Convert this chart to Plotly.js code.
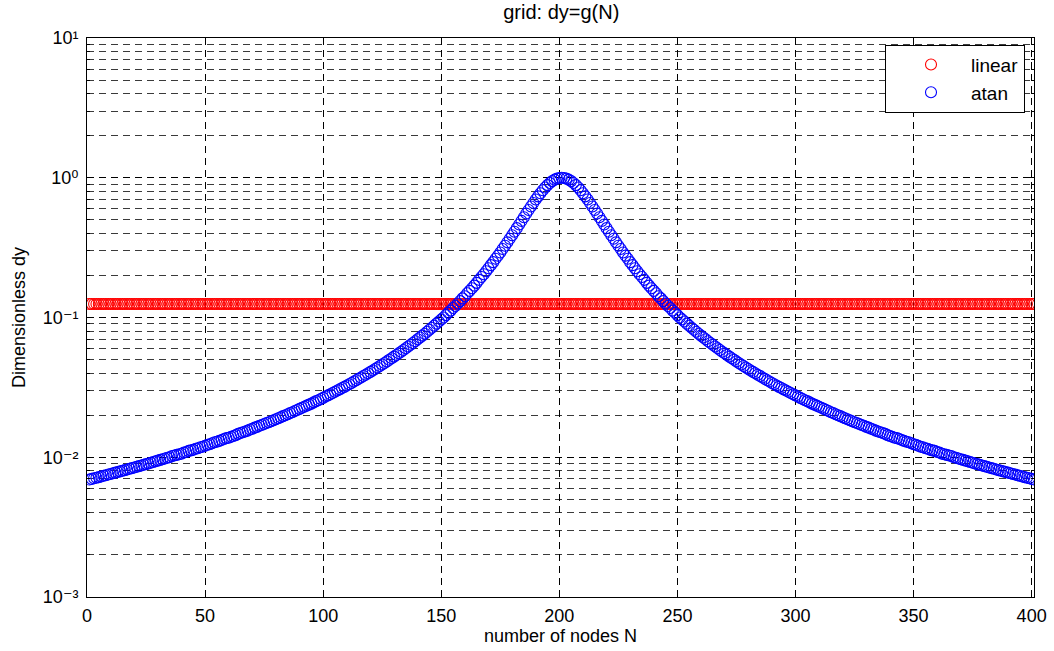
<!DOCTYPE html>
<html>
<head>
<meta charset="utf-8">
<script src="https://cdn.plot.ly/plotly-3.0.1.min.js"></script>
<style>
  html, body { margin: 0; padding: 0; background: #fff; overflow: hidden; }
</style>
</head>
<body>
<div id="chart" style="width:1054px;height:651px;"></div>
<script>
// Node numbers N (x axis)
const nodeCount = 401;
const nodes = [];
for (let i = 1; i <= nodeCount; i++) nodes.push(i);

// linear grid spacing (constant)
const dyLinear = [
0.125,0.125,0.125,0.125,0.125,0.125,0.125,0.125,0.125,0.125,0.125,0.125,0.125,0.125,0.125,0.125,0.125,0.125,0.125,0.125,
0.125,0.125,0.125,0.125,0.125,0.125,0.125,0.125,0.125,0.125,0.125,0.125,0.125,0.125,0.125,0.125,0.125,0.125,0.125,0.125,
0.125,0.125,0.125,0.125,0.125,0.125,0.125,0.125,0.125,0.125,0.125,0.125,0.125,0.125,0.125,0.125,0.125,0.125,0.125,0.125,
0.125,0.125,0.125,0.125,0.125,0.125,0.125,0.125,0.125,0.125,0.125,0.125,0.125,0.125,0.125,0.125,0.125,0.125,0.125,0.125,
0.125,0.125,0.125,0.125,0.125,0.125,0.125,0.125,0.125,0.125,0.125,0.125,0.125,0.125,0.125,0.125,0.125,0.125,0.125,0.125,
0.125,0.125,0.125,0.125,0.125,0.125,0.125,0.125,0.125,0.125,0.125,0.125,0.125,0.125,0.125,0.125,0.125,0.125,0.125,0.125,
0.125,0.125,0.125,0.125,0.125,0.125,0.125,0.125,0.125,0.125,0.125,0.125,0.125,0.125,0.125,0.125,0.125,0.125,0.125,0.125,
0.125,0.125,0.125,0.125,0.125,0.125,0.125,0.125,0.125,0.125,0.125,0.125,0.125,0.125,0.125,0.125,0.125,0.125,0.125,0.125,
0.125,0.125,0.125,0.125,0.125,0.125,0.125,0.125,0.125,0.125,0.125,0.125,0.125,0.125,0.125,0.125,0.125,0.125,0.125,0.125,
0.125,0.125,0.125,0.125,0.125,0.125,0.125,0.125,0.125,0.125,0.125,0.125,0.125,0.125,0.125,0.125,0.125,0.125,0.125,0.125,
0.125,0.125,0.125,0.125,0.125,0.125,0.125,0.125,0.125,0.125,0.125,0.125,0.125,0.125,0.125,0.125,0.125,0.125,0.125,0.125,
0.125,0.125,0.125,0.125,0.125,0.125,0.125,0.125,0.125,0.125,0.125,0.125,0.125,0.125,0.125,0.125,0.125,0.125,0.125,0.125,
0.125,0.125,0.125,0.125,0.125,0.125,0.125,0.125,0.125,0.125,0.125,0.125,0.125,0.125,0.125,0.125,0.125,0.125,0.125,0.125,
0.125,0.125,0.125,0.125,0.125,0.125,0.125,0.125,0.125,0.125,0.125,0.125,0.125,0.125,0.125,0.125,0.125,0.125,0.125,0.125,
0.125,0.125,0.125,0.125,0.125,0.125,0.125,0.125,0.125,0.125,0.125,0.125,0.125,0.125,0.125,0.125,0.125,0.125,0.125,0.125,
0.125,0.125,0.125,0.125,0.125,0.125,0.125,0.125,0.125,0.125,0.125,0.125,0.125,0.125,0.125,0.125,0.125,0.125,0.125,0.125,
0.125,0.125,0.125,0.125,0.125,0.125,0.125,0.125,0.125,0.125,0.125,0.125,0.125,0.125,0.125,0.125,0.125,0.125,0.125,0.125,
0.125,0.125,0.125,0.125,0.125,0.125,0.125,0.125,0.125,0.125,0.125,0.125,0.125,0.125,0.125,0.125,0.125,0.125,0.125,0.125,
0.125,0.125,0.125,0.125,0.125,0.125,0.125,0.125,0.125,0.125,0.125,0.125,0.125,0.125,0.125,0.125,0.125,0.125,0.125,0.125,
0.125,0.125,0.125,0.125,0.125,0.125,0.125,0.125,0.125,0.125,0.125,0.125,0.125,0.125,0.125,0.125,0.125,0.125,0.125,0.125,
0.125
];

// atan-stretched grid spacing
const dyAtan = [
0.00693,0.00700,0.00707,0.00714,0.00721,0.00729,0.00737,0.00744,0.00752,0.00759,
0.00768,0.00776,0.00784,0.00792,0.00800,0.00809,0.00818,0.00827,0.00836,0.00845,
0.00854,0.00864,0.00873,0.00883,0.00893,0.00903,0.00914,0.00924,0.00935,0.00946,
0.00957,0.00968,0.00979,0.00991,0.0100,0.0102,0.0103,0.0104,0.0105,0.0106,
0.0108,0.0109,0.0111,0.0112,0.0113,0.0115,0.0116,0.0118,0.0119,0.0121,
0.0123,0.0124,0.0126,0.0128,0.0129,0.0131,0.0133,0.0135,0.0137,0.0138,
0.0140,0.0142,0.0144,0.0147,0.0149,0.0151,0.0153,0.0155,0.0158,0.0160,
0.0163,0.0165,0.0168,0.0170,0.0173,0.0176,0.0178,0.0181,0.0184,0.0187,
0.0190,0.0193,0.0197,0.0200,0.0203,0.0207,0.0210,0.0214,0.0218,0.0222,
0.0226,0.0230,0.0234,0.0238,0.0242,0.0247,0.0252,0.0256,0.0261,0.0266,
0.0272,0.0277,0.0282,0.0288,0.0294,0.0300,0.0306,0.0313,0.0319,0.0326,
0.0333,0.0340,0.0348,0.0356,0.0364,0.0372,0.0381,0.0389,0.0399,0.0408,
0.0418,0.0428,0.0439,0.0450,0.0461,0.0473,0.0485,0.0498,0.0511,0.0525,
0.0539,0.0554,0.0569,0.0585,0.0602,0.0620,0.0638,0.0657,0.0677,0.0698,
0.0720,0.0742,0.0766,0.0791,0.0817,0.0845,0.0874,0.0904,0.0936,0.0969,
0.100,0.104,0.108,0.112,0.117,0.121,0.126,0.131,0.137,0.142,
0.149,0.155,0.162,0.169,0.177,0.186,0.195,0.204,0.214,0.225,
0.237,0.249,0.263,0.277,0.292,0.309,0.326,0.345,0.366,0.388,
0.411,0.436,0.463,0.491,0.522,0.554,0.588,0.623,0.660,0.698,
0.736,0.775,0.814,0.851,0.886,0.918,0.946,0.969,0.986,0.996,
1.000,
0.996,0.986,0.969,0.946,0.918,0.886,0.851,0.814,0.775,0.736,
0.698,0.660,0.623,0.588,0.554,0.522,0.491,0.463,0.436,0.411,
0.388,0.366,0.345,0.326,0.309,0.292,0.277,0.263,0.249,0.237,
0.225,0.214,0.204,0.195,0.186,0.177,0.169,0.162,0.155,0.149,
0.142,0.137,0.131,0.126,0.121,0.117,0.112,0.108,0.104,0.100,
0.0969,0.0936,0.0904,0.0874,0.0845,0.0817,0.0791,0.0766,0.0742,0.0720,
0.0698,0.0677,0.0657,0.0638,0.0620,0.0602,0.0585,0.0569,0.0554,0.0539,
0.0525,0.0511,0.0498,0.0485,0.0473,0.0461,0.0450,0.0439,0.0428,0.0418,
0.0408,0.0399,0.0389,0.0381,0.0372,0.0364,0.0356,0.0348,0.0340,0.0333,
0.0326,0.0319,0.0313,0.0306,0.0300,0.0294,0.0288,0.0282,0.0277,0.0272,
0.0266,0.0261,0.0256,0.0252,0.0247,0.0242,0.0238,0.0234,0.0230,0.0226,
0.0222,0.0218,0.0214,0.0210,0.0207,0.0203,0.0200,0.0197,0.0193,0.0190,
0.0187,0.0184,0.0181,0.0178,0.0176,0.0173,0.0170,0.0168,0.0165,0.0163,
0.0160,0.0158,0.0155,0.0153,0.0151,0.0149,0.0147,0.0144,0.0142,0.0140,
0.0138,0.0137,0.0135,0.0133,0.0131,0.0129,0.0128,0.0126,0.0124,0.0123,
0.0121,0.0119,0.0118,0.0116,0.0115,0.0113,0.0112,0.0111,0.0109,0.0108,
0.0106,0.0105,0.0104,0.0103,0.0102,0.0100,0.00991,0.00979,0.00968,0.00957,
0.00946,0.00935,0.00924,0.00914,0.00903,0.00893,0.00883,0.00873,0.00864,0.00854,
0.00845,0.00836,0.00827,0.00818,0.00809,0.00800,0.00792,0.00784,0.00776,0.00768,
0.00759,0.00752,0.00744,0.00737,0.00729,0.00721,0.00714,0.00707,0.00700,0.00693
];

// Axis ticks
const xTickVals = [0, 50, 100, 150, 200, 250, 300, 350, 400];
const yTickVals = [0.001, 0.01, 0.1, 1, 10];
const yTickText = ['10\u207B\u00B3', '10\u207B\u00B2', '10\u207B\u00B9', '10\u2070', '10\u00B9'];

const seriesNames = ['linear', 'atan'];
const seriesColors = ['#ff0000', '#0000ff'];

const FONT = 'Liberation Sans, Arial, Helvetica, DejaVu Sans, sans-serif';
const FS = 18;

const traces = [dyLinear, dyAtan].map((vals, i) => ({
  type: 'scatter',
  mode: 'markers',
  x: nodes,
  y: vals,
  name: seriesNames[i],
  legendgroup: 'g' + i,
  marker: { symbol: 'circle-open', size: 11, color: seriesColors[i], line: { width: 1.1, color: seriesColors[i] } }
}));

const gridDash = '7px,5px';

const layout = {
  width: 1054,
  height: 651,
  margin: { l: 87, r: 20, t: 38, b: 54 },
  paper_bgcolor: '#ffffff',
  plot_bgcolor: '#ffffff',
  font: { family: FONT, size: FS, color: '#000' },
  title: { text: 'grid: dy=g(N)', font: { family: FONT, size: 20, color: '#000' }, x: 0.5325, xanchor: 'center', y: 0.981, yanchor: 'middle', yref: 'container' },
  showlegend: true,
  legend: {
    x: 0.9905, y: 0.988, xanchor: 'right', yanchor: 'top',
    bgcolor: '#ffffff', bordercolor: '#000', borderwidth: 1,
    font: { family: FONT, size: 19, color: '#000' },
    tracegroupgap: 0,
    indentation: 5,
    itemwidth: 70
  },
  xaxis: {
    range: [0, 401],
    tickmode: 'array', tickvals: xTickVals,
    ticks: 'inside', ticklen: 5, tickcolor: '#000', tickwidth: 1,
    showline: true, linecolor: '#000', linewidth: 1, mirror: 'ticks',
    showgrid: true, gridcolor: '#000', gridwidth: 1, griddash: gridDash,
    zeroline: false,
    tickfont: { family: FONT, size: FS, color: '#000' },
    ticklabelstandoff: 2,
    title: { text: 'number of nodes N', font: { family: FONT, size: FS, color: '#000' }, standoff: 4 }
  },
  yaxis: {
    type: 'log',
    range: [-3, 1],
    tickmode: 'array', tickvals: yTickVals, ticktext: yTickText,
    ticks: 'inside', ticklen: 5, tickcolor: '#000', tickwidth: 1,
    showline: true, linecolor: '#000', linewidth: 1, mirror: 'ticks',
    showgrid: true, gridcolor: '#000', gridwidth: 1, griddash: gridDash,
    zeroline: false,
    tickfont: { family: FONT, size: FS, color: '#000' },
    ticklabelstandoff: 4,
    minor: { dtick: 'D1', ticks: 'inside', ticklen: 3, tickcolor: '#000', showgrid: true, gridcolor: '#3a3a3a', gridwidth: 1, griddash: gridDash },
    title: { text: 'Dimensionless dy', font: { family: FONT, size: FS, color: '#000' }, standoff: 12 }
  }
};

Plotly.newPlot('chart', traces, layout, { displayModeBar: false, staticPlot: true });
</script>
</body>
</html>
